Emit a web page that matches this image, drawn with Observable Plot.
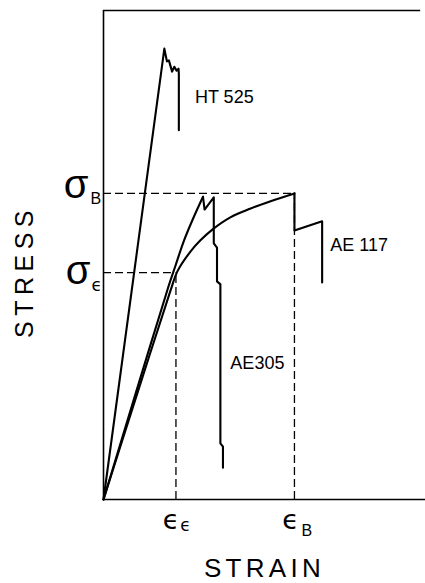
<!DOCTYPE html>
<html><head><meta charset="utf-8">
<script src="https://cdn.jsdelivr.net/npm/d3@7"></script>
<script src="https://cdn.jsdelivr.net/npm/@observablehq/plot@0.6"></script>
<style>html,body{margin:0;padding:0;background:#fff} svg{display:block}</style>
</head><body><div id="chart"></div>
<script>
// Strain / stress in arbitrary units (0–100 each axis)
const ht525Strain = [0, 18.9, 19.7, 20.3, 21.3, 22.0, 22.7, 23.3, 23.4, 23.4];
const ht525Stress = [0, 92.2, 89.6, 89.8, 87.5, 88.5, 87.7, 88.1, 87.1, 75.5];

const ae305RiseStrain = [0, 9.9, 20.2, 22.4, 24.8, 27.6, 30.9];
const ae305RiseStress = [0, 21.5, 43.6, 47.9, 52.6, 57.1, 61.9];
const ae305DropStrain = [30.9, 31.4, 34.25, 34.25, 35.25, 35.25, 36.3, 36.3, 37.1, 37.1];
const ae305DropStress = [61.9, 59.3, 61.8, 52.4, 51.5, 44.6, 44.0, 11.5, 10.8, 6.5];

const ae117RiseStrain = [0, 10.4, 20.8, 22.9, 27.0, 30.1, 33.8, 39.4, 45.7, 51.9, 59.3];
const ae117RiseStress = [0, 21.5, 42.7, 46.6, 50.7, 53.0, 55.2, 57.7, 59.5, 61.0, 62.6];
const ae117DropStrain = [59.3, 59.3, 67.9, 67.9];
const ae117DropStress = [62.6, 55.0, 56.9, 44.4];

// characteristic values
const sigmaB = 62.6, sigmaE = 46.4, epsB = 59.3, epsE = 22.5;

// series labels
const labelText = ["HT 525", "AE 117", "AE305"];
const labelStrain = [28.4, 70.4, 39.4];
const labelStress = [82.3, 51.9, 27.9];

const rows = (xs, ys) => xs.map((x, i) => ({strain: x, stress: ys[i]}));
const ht525 = rows(ht525Strain, ht525Stress);
const ae305Rise = rows(ae305RiseStrain, ae305RiseStress);
const ae305Drop = rows(ae305DropStrain, ae305DropStress);
const ae117Rise = rows(ae117RiseStrain, ae117RiseStress);
const ae117Drop = rows(ae117DropStrain, ae117DropStress);
const labels = labelText.map((t, i) => ({t, strain: labelStrain[i], stress: labelStress[i]}));

const F = "Liberation Sans, Arial, Helvetica, sans-serif";
const G = "DejaVu Sans, sans-serif";
const lineOpts = {x: "strain", y: "stress", stroke: "black", strokeWidth: 2.1};
const dash = {stroke: "black", strokeWidth: 1.3, strokeDasharray: "8,4"};

const chart = Plot.plot({
  width: 425, height: 583,
  marginLeft: 103, marginRight: 0, marginTop: 10, marginBottom: 84,
  x: {domain: [0, 100], axis: null},
  y: {domain: [0, 100], axis: null},
  style: {fontFamily: F, background: "white"},
  marks: [
    // frame
    Plot.ruleX([0], {y1: 0, y2: 100, stroke: "black", strokeWidth: 1.6}),
    Plot.ruleY([100], {x1: 0, x2: 98.5, stroke: "black", strokeWidth: 1.4}),
    Plot.ruleY([0], {x1: 0, x2: 100, stroke: "black", strokeWidth: 1.4}),
    // dashed guides
    Plot.ruleY([sigmaB], {x1: 0, x2: epsB, ...dash}),
    Plot.ruleX([epsB], {y1: 0, y2: sigmaB, ...dash}),
    Plot.ruleY([sigmaE], {x1: 0, x2: epsE, ...dash}),
    Plot.ruleX([epsE], {y1: 0, y2: sigmaE, ...dash}),
    // curves
    Plot.line(ht525, lineOpts),
    Plot.line(ae305Rise, {...lineOpts, curve: "catmull-rom"}),
    Plot.line(ae305Drop, lineOpts),
    Plot.line(ae117Rise, {...lineOpts, curve: "catmull-rom"}),
    Plot.line(ae117Drop, lineOpts),
    // series labels
    Plot.text(labels, {x: "strain", y: "stress", text: "t", textAnchor: "start", fontSize: 18, fill: "black"}),
    // stress tick labels
    Plot.text([sigmaB], {x: 0, y: d => d, text: () => "σ", textAnchor: "end", dx: -15, dy: -8.3, fontSize: 40}),
    Plot.text([sigmaB], {x: 0, y: d => d, text: () => "B", textAnchor: "start", dx: -13, dy: 5.4, fontSize: 16}),
    Plot.text([sigmaE], {x: 0, y: d => d, text: () => "σ", textAnchor: "end", dx: -13, dy: -1.8, fontSize: 40}),
    Plot.text([sigmaE], {x: 0, y: d => d, text: () => "ϵ", textAnchor: "start", dx: -12, dy: 12.6, fontSize: 17, fontFamily: G}),
    // strain tick labels
    Plot.text([epsE], {x: d => d, y: 0, text: () => "ϵ", dx: -5, dy: 20.4, fontSize: 27, fontFamily: G}),
    Plot.text([epsE], {x: d => d, y: 0, text: () => "ϵ", dx: 9.5, dy: 25.6, fontSize: 17, fontFamily: G}),
    Plot.text([epsB], {x: d => d, y: 0, text: () => "ϵ", dx: -4, dy: 20.4, fontSize: 27, fontFamily: G}),
    Plot.text([epsB], {x: d => d, y: 0, text: () => "B", dx: 12.5, dy: 30.9, fontSize: 16}),
    // axis titles
    Plot.text(["STRESS"], {frameAnchor: "left", textAnchor: "middle", lineAnchor: "middle", text: d => d, rotate: -90, dx: -79, dy: 16.5, fontSize: 25}),
    Plot.text(["STRAIN"], {frameAnchor: "bottom", textAnchor: "middle", lineAnchor: "middle", text: d => d, dx: 0, dy: 69.5, fontSize: 26})
  ]
});
d3.select(chart).selectAll("text").filter(function(){ return this.textContent === "STRESS"; }).attr("letter-spacing", 5.5);
d3.select(chart).selectAll("text").filter(function(){ return this.textContent === "STRAIN"; }).attr("letter-spacing", 4.3);
document.getElementById("chart").append(chart);
</script>
</body></html>
